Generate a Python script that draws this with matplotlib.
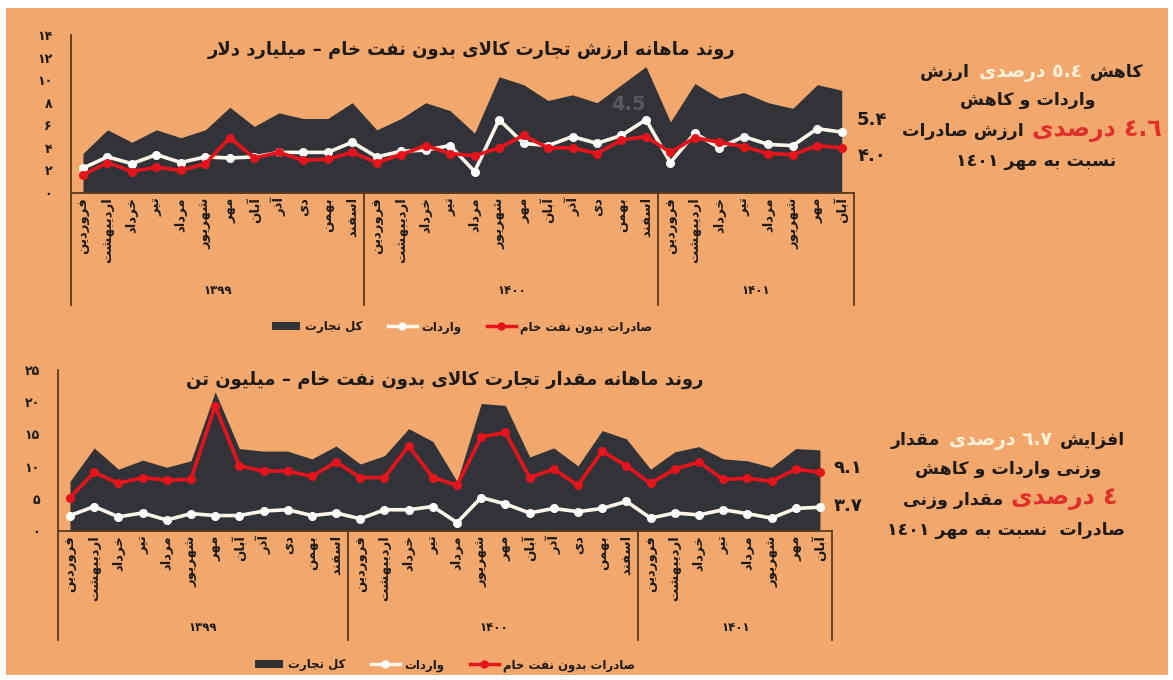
import re
import numpy as np
import matplotlib
matplotlib.use('Agg')
import matplotlib.pyplot as plt
from matplotlib.offsetbox import TextArea, HPacker, AnnotationBbox
from matplotlib.patches import Rectangle, Patch
from matplotlib.lines import Line2D
import matplotlib.transforms as mtransforms

# ---------------- data ----------------
months = ['فروردین', 'اردیبهشت', 'خرداد', 'تیر', 'مرداد', 'شهریور',
          'مهر', 'آبان', 'آذر', 'دی', 'بهمن', 'اسفند']
years = ['۱۳۹۹', '۱۴۰۰', '۱۴۰۱']
year_months = [12, 12, 8]
categories = months + months + months[:8]

value_total = [3.5, 5.6, 4.5, 5.6, 4.9, 5.6, 7.6, 5.9, 7.1, 6.6, 6.6, 8.0,
               5.6, 6.6, 8.0, 7.3, 5.3, 10.3, 9.6, 8.2, 8.7, 8.0, 9.6, 11.2,
               6.3, 9.7, 8.4, 8.9, 8.0, 7.5, 9.6, 9.1]
value_imports = [2.2, 3.2, 2.6, 3.4, 2.7, 3.2, 3.1, 3.2, 3.6, 3.6, 3.6, 4.5,
                 3.2, 3.7, 3.8, 4.2, 1.9, 6.5, 4.4, 4.2, 5.0, 4.4, 5.1, 6.5,
                 2.7, 5.3, 4.0, 5.0, 4.3, 4.2, 5.7, 5.4]
value_exports = [1.6, 2.7, 1.9, 2.3, 2.0, 2.6, 4.9, 3.1, 3.6, 2.9, 3.0, 3.6,
                 2.7, 3.4, 4.2, 3.5, 3.3, 4.0, 5.1, 4.0, 4.0, 3.5, 4.7, 5.0,
                 3.6, 4.9, 4.5, 4.1, 3.5, 3.4, 4.2, 4.0]

weight_total = [7.7, 12.9, 9.6, 11.0, 9.9, 10.9, 21.6, 12.8, 12.4, 12.4, 11.2, 13.2,
                10.4, 11.7, 15.9, 13.9, 7.7, 19.8, 19.5, 11.5, 12.9, 10.1, 15.6, 14.3,
                9.6, 12.3, 13.1, 11.2, 10.9, 9.9, 12.8, 12.6]
weight_imports = [2.4, 3.8, 2.2, 2.8, 1.7, 2.7, 2.4, 2.4, 3.1, 3.3, 2.4, 2.8,
                  1.9, 3.3, 3.3, 3.8, 1.3, 5.2, 4.2, 2.8, 3.5, 3.0, 3.5, 4.6,
                  2.0, 2.8, 2.5, 3.3, 2.7, 2.0, 3.5, 3.7]
weight_exports = [5.2, 9.1, 7.4, 8.3, 7.9, 8.0, 19.4, 10.1, 9.3, 9.3, 8.5, 10.7,
                  8.3, 8.3, 13.2, 8.3, 7.1, 14.6, 15.3, 8.3, 9.6, 7.1, 12.4, 10.1,
                  7.4, 9.6, 10.7, 8.0, 8.2, 7.7, 9.6, 9.1]

series_names = ['کل تجارت', 'واردات', 'صادرات بدون نفت خام']
title_value = 'روند ماهانه ارزش تجارت کالای بدون نفت خام – میلیارد دلار'
title_weight = 'روند ماهانه مقدار تجارت کالای بدون نفت خام – میلیون تن'
value_ticks = [0, 2, 4, 6, 8, 10, 12, 14]
weight_ticks = [0, 5, 10, 15, 20, 25]
value_end_labels = ['5.۴', '۴.۰']
weight_end_labels = ['۹.۱', '۳.۷']

# ---------------- Persian shaping (presentation forms + visual order) ----------------
FORMS = {
    'ا': ('\uFE8D', '\uFE8E'), 'آ': ('\uFE81', '\uFE82'),
    'ب': ('\uFE8F', '\uFE90', '\uFE91', '\uFE92'),
    'پ': ('\uFB56', '\uFB57', '\uFB58', '\uFB59'),
    'ت': ('\uFE95', '\uFE96', '\uFE97', '\uFE98'),
    'ث': ('\uFE99', '\uFE9A', '\uFE9B', '\uFE9C'),
    'ج': ('\uFE9D', '\uFE9E', '\uFE9F', '\uFEA0'),
    'چ': ('\uFB7A', '\uFB7B', '\uFB7C', '\uFB7D'),
    'ح': ('\uFEA1', '\uFEA2', '\uFEA3', '\uFEA4'),
    'خ': ('\uFEA5', '\uFEA6', '\uFEA7', '\uFEA8'),
    'د': ('\uFEA9', '\uFEAA'), 'ذ': ('\uFEAB', '\uFEAC'),
    'ر': ('\uFEAD', '\uFEAE'), 'ز': ('\uFEAF', '\uFEB0'),
    'ژ': ('\uFB8A', '\uFB8B'),
    'س': ('\uFEB1', '\uFEB2', '\uFEB3', '\uFEB4'),
    'ش': ('\uFEB5', '\uFEB6', '\uFEB7', '\uFEB8'),
    'ص': ('\uFEB9', '\uFEBA', '\uFEBB', '\uFEBC'),
    'ض': ('\uFEBD', '\uFEBE', '\uFEBF', '\uFEC0'),
    'ط': ('\uFEC1', '\uFEC2', '\uFEC3', '\uFEC4'),
    'ظ': ('\uFEC5', '\uFEC6', '\uFEC7', '\uFEC8'),
    'ع': ('\uFEC9', '\uFECA', '\uFECB', '\uFECC'),
    'غ': ('\uFECD', '\uFECE', '\uFECF', '\uFED0'),
    'ف': ('\uFED1', '\uFED2', '\uFED3', '\uFED4'),
    'ق': ('\uFED5', '\uFED6', '\uFED7', '\uFED8'),
    'ک': ('\uFB8E', '\uFB8F', '\uFB90', '\uFB91'),
    'گ': ('\uFB92', '\uFB93', '\uFB94', '\uFB95'),
    'ل': ('\uFEDD', '\uFEDE', '\uFEDF', '\uFEE0'),
    'م': ('\uFEE1', '\uFEE2', '\uFEE3', '\uFEE4'),
    'ن': ('\uFEE5', '\uFEE6', '\uFEE7', '\uFEE8'),
    'و': ('\uFEED', '\uFEEE'),
    'ه': ('\uFEE9', '\uFEEA', '\uFEEB', '\uFEEC'),
    'ی': ('\uFBFC', '\uFBFD', '\uFBFE', '\uFBFF'),
}


def fa(s):
    chars = list(s)
    tokens = []
    i = 0
    while i < len(chars):
        c = chars[i]
        if c == 'ل' and i + 1 < len(chars) and chars[i + 1] in ('ا', 'آ'):
            tokens.append('LA' if chars[i + 1] == 'ا' else 'LAA')
            i += 2
        else:
            tokens.append(c)
            i += 1

    def joins_left(t):
        return t in FORMS and len(FORMS[t]) == 4

    def is_letter(t):
        return t in FORMS or t in ('LA', 'LAA')

    out = []
    for k, t in enumerate(tokens):
        prev = tokens[k - 1] if k > 0 else None
        nxt = tokens[k + 1] if k + 1 < len(tokens) else None
        pj = prev is not None and joins_left(prev)
        if t in ('LA', 'LAA'):
            iso, fin = ('\uFEFB', '\uFEFC') if t == 'LA' else ('\uFEF5', '\uFEF6')
            out.append(fin if pj else iso)
            continue
        if t not in FORMS:
            out.append(t)
            continue
        f = FORMS[t]
        nj = len(f) == 4 and nxt is not None and is_letter(nxt)
        if pj and nj:
            out.append(f[3])
        elif pj:
            out.append(f[1])
        elif nj:
            out.append(f[2])
        else:
            out.append(f[0])
    vis = ''.join(out)[::-1]
    vis = re.sub(r'[0-9\u06F0-\u06F9\u0660-\u0669.]+', lambda m: m.group(0)[::-1], vis)
    return vis


def fa_digits(n):
    return ''.join('۰۱۲۳۴۵۶۷۸۹'[int(d)] for d in str(n))


# ---------------- style ----------------
plt.rcParams['font.family'] = ['DejaVu Sans']
plt.rcParams['font.weight'] = 'bold'
BG = '#F2A86C'
DARK = '#323338'
RED = '#E5141B'
WHITE = '#FFF8EA'
CREAM = '#FFF3DA'
BROWN = '#5A3A1E'
TXT = '#1E1A17'

W, H = 1173, 680
fig = plt.figure(figsize=(W / 100, H / 100), dpi=100, facecolor='white')
fig.patches.append(Rectangle((6 / W, 5 / H), 1162 / W, 667 / H, transform=fig.transFigure,
                             facecolor=BG, edgecolor='none', zorder=-10))


def px(x0, y0, x1, y1):
    return [x0 / W, 1 - y1 / H, (x1 - x0) / W, (y1 - y0) / H]


def draw_panel(rect, total, imports, exports, ticks, ylim, sep_depth, year_y, ypad):
    ax = fig.add_axes(rect)
    ax.set_facecolor('none')
    x = np.arange(len(categories))
    ax.fill_between(x, total, color=DARK, lw=0, zorder=1)
    ax.plot(x, imports, color=WHITE, lw=2.6, marker='o', ms=5.5, mfc='white',
            mec='white', zorder=3)
    ax.plot(x, exports, color=RED, lw=2.6, marker='o', ms=5.5, mfc=RED, mec=RED,
            zorder=4)
    ax.set_xlim(-0.5, len(categories) - 0.5)
    ax.set_ylim(*ylim)
    ax.set_yticks(ticks)
    ax.set_yticklabels([fa_digits(t) for t in ticks], fontsize=9, color=TXT,
                       fontweight='bold')
    ax.set_xticks(x)
    ax.set_xticklabels([fa(m) for m in categories], rotation=90, fontsize=9.5,
                       color=TXT, fontweight='bold', va='top', ha='center')
    ax.tick_params(axis='both', length=0)
    ax.tick_params(axis='y', pad=ypad)
    ax.tick_params(axis='x', pad=3)
    for s in ('top', 'right'):
        ax.spines[s].set_visible(False)
    for s in ('left', 'bottom'):
        ax.spines[s].set_color(BROWN)
        ax.spines[s].set_linewidth(1.3)
    trans = mtransforms.blended_transform_factory(ax.transData, ax.transAxes)
    bounds = np.concatenate([[0], np.cumsum(year_months)]) - 0.5
    for b in bounds:
        ax.plot([b, b], [0, sep_depth], transform=trans, color=BROWN, lw=1.3,
                clip_on=False)
    for i, yname in enumerate(years):
        ax.text((bounds[i] + bounds[i + 1]) / 2, year_y, yname, transform=trans,
                ha='center', va='center', fontsize=8.5, color=TXT, fontweight='bold')
    return ax


ax1 = draw_panel(px(70.75, 35, 854, 193), value_total, value_imports, value_exports,
                 value_ticks, (0, 14), -0.71, -0.615, 13.5)
ax2 = draw_panel(px(57.9, 370, 832, 531), weight_total, weight_imports, weight_exports,
                 weight_ticks, (0, 25), -0.68, -0.6, 13)

# titles
fig.text(472 / W, 1 - 50 / H, fa(title_value), ha='center', va='center',
         fontsize=13, fontweight='bold', color=TXT)
fig.text(445 / W, 1 - 380 / H, fa(title_weight), ha='center', va='center',
         fontsize=13, fontweight='bold', color=TXT)

# faint watermark-like label in top chart
fig.text(628 / W, 1 - 105 / H, '4.5', ha='center', va='center', fontsize=14,
         color='#56595E', fontweight='bold')

# end labels
fig.text(872 / W, 1 - 120 / H, value_end_labels[0], ha='center', va='center',
         fontsize=13, fontweight='bold', color=TXT)
fig.text(872 / W, 1 - 156 / H, value_end_labels[1], ha='center', va='center',
         fontsize=13, fontweight='bold', color=TXT)
fig.text(848 / W, 1 - 468 / H, weight_end_labels[0], ha='center', va='center',
         fontsize=13, fontweight='bold', color=TXT)
fig.text(848 / W, 1 - 506 / H, weight_end_labels[1], ha='center', va='center',
         fontsize=13, fontweight='bold', color=TXT)

# legends
handles = [Patch(facecolor=DARK, edgecolor='none'),
           Line2D([], [], color=WHITE, lw=2.5, marker='o', ms=5, mfc='white', mec='white'),
           Line2D([], [], color=RED, lw=2.5, marker='o', ms=5, mfc=RED, mec=RED)]
for cy, cx in ((327, 462), (665, 445)):
    lg = fig.legend(handles, [fa(n) for n in series_names], ncol=3, frameon=False,
                    loc='center', bbox_to_anchor=(cx / W, 1 - cy / H),
                    prop={'size': 8.5, 'weight': 'bold'}, handlelength=2.4,
                    handleheight=0.7, columnspacing=2.2, handletextpad=0.4)
    for t in lg.get_texts():
        t.set_color(TXT)


# rich annotation lines (parts in logical RTL order)
def rich_line(parts, cx, cy):
    areas = []
    for text, color, size in reversed(parts):
        areas.append(TextArea(fa(text), textprops=dict(color=color, fontsize=size,
                                                         fontweight='bold')))
    box = HPacker(children=areas, sep=6, align='baseline', pad=0)
    ab = AnnotationBbox(box, (cx / W, 1 - cy / H), xycoords='figure fraction',
                        frameon=False, box_alignment=(0.5, 0.5), pad=0)
    fig.add_artist(ab)


rich_line([('کاهش', TXT, 12.5), ('٥.٤ درصدی', CREAM, 13.5), ('ارزش', TXT, 12.5)], 1032, 72)
rich_line([('واردات و کاهش', TXT, 12.5)], 1028, 100)
rich_line([('٤.٦ درصدی', '#E0302A', 17), ('ارزش صادرات', TXT, 12.5)], 1032, 130)
rich_line([('نسبت به مهر ١٤٠١', TXT, 12.5)], 1036, 161)

rich_line([('افزایش', TXT, 12.5), ('٦.٧ درصدی', CREAM, 13.5), ('مقدار', TXT, 12.5)], 1008, 440)
rich_line([('وزنی واردات و کاهش', TXT, 12.5)], 1008, 469)
rich_line([('٤ درصدی', '#E0302A', 17), ('مقدار وزنی', TXT, 12.5)], 1010, 498)
rich_line([('صادرات  نسبت به مهر ١٤٠١', TXT, 12.5)], 1006, 530)

fig.savefig('out.png', dpi=100, facecolor=fig.get_facecolor())
